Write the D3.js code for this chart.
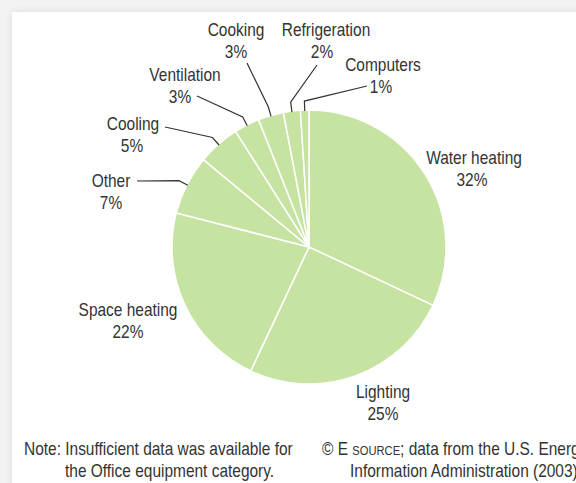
<!DOCTYPE html>
<html>
<head>
<meta charset="utf-8">
<script src="https://cdn.jsdelivr.net/npm/d3@7"></script>
<style>
  html, body { margin: 0; padding: 0; }
  body { width: 576px; height: 483px; background: #f3f3f3; overflow: hidden; position: relative; }
  #card { position: absolute; left: 12px; top: 12px; width: 600px; height: 500px; background: #fff;
          box-shadow: 0 0 8px rgba(0,0,0,0.10); }
  svg { position: absolute; left: 0; top: 0; }
  text { font-family: "Liberation Sans", Arial, sans-serif; fill: #333; }
</style>
</head>
<body>
<div id="card"></div>
<div id="chart"></div>
<script>
const categories = ["Water heating", "Lighting", "Space heating", "Other", "Cooling",
                    "Ventilation", "Cooking", "Refrigeration", "Computers"];
const shares = [32, 25, 22, 7, 5, 3, 3, 2, 1];
const noteLines = ["Note: Insufficient data was available for", "the Office equipment category."];
const sourceLines = ["data from the U.S. Energy", "Information Administration (2003)"];

// hand placed label spots: [x line1, baseline, x line2, leader start or null]
const labelSpots = [
  [474, 164, 472, null],
  [383, 398, 383, null],
  [128, 316, 128, null],
  [111, 187, 111, [137, 181]],
  [133, 130, 132, [165, 127]],
  [185, 81, 180, [197, 96]],
  [236, 36, 236, [247, 63]],
  [326, 36, 322, [317, 65]],
  [383, 71, 381, [367, 86]]
];

const width = 576;
const height = 483;
const cx = 309, cy = 247, radius = 137;
const squeeze = 0.86; // the original face is a condensed one

const svg = d3.select("#chart").append("svg")
  .attr("width", width)
  .attr("height", height);

// text squeezed sideways around its anchor point
function addText(x, y, size, anchor) {
  return svg.append("g")
    .attr("transform", `translate(${x},${y}) scale(${squeeze},1)`)
    .append("text")
    .attr("font-size", size)
    .attr("text-anchor", anchor);
}

const pie = d3.pie().sort(null).value(d => d)(shares);
const arc = d3.arc().innerRadius(0).outerRadius(radius);

const g = svg.append("g").attr("transform", `translate(${cx},${cy})`);

g.selectAll("path.slice")
  .data(pie)
  .join("path")
  .attr("class", "slice")
  .attr("d", arc)
  .attr("fill", "#c7e3a2")
  .attr("stroke", "#fff")
  .attr("stroke-width", 1.5);

// leader lines: label -> elbow just outside the rim -> rim at slice middle
const onRim = (a, r) => [cx + r * Math.sin(a), cy - r * Math.cos(a)];
pie.forEach((p, i) => {
  const start = labelSpots[i][3];
  if (!start) return;
  const mid = (p.startAngle + p.endAngle) / 2;
  const pts = [start, onRim(mid, radius + 9), onRim(mid, radius - 1)];
  svg.append("path")
    .attr("d", d3.line()(pts))
    .attr("fill", "none")
    .attr("stroke", "#333")
    .attr("stroke-width", 1.2);
});

labelSpots.forEach((s, i) => {
  addText(s[0], s[1], 18, "middle").text(categories[i]);
  addText(s[2], s[1] + 22, 18, "middle").text(shares[i] + "%");
});

// footnotes
addText(24, 455, 18, "start").text(noteLines[0]);
addText(65, 477, 18, "start").text(noteLines[1]);

const src1 = addText(322, 455, 18, "start");
src1.append("tspan").text("\u00A9 E ");
src1.append("tspan").attr("font-size", 13).text("SOURCE");
src1.append("tspan").text("; " + sourceLines[0]);
addText(350, 477, 18, "start").text(sourceLines[1]);
</script>
</body>
</html>
